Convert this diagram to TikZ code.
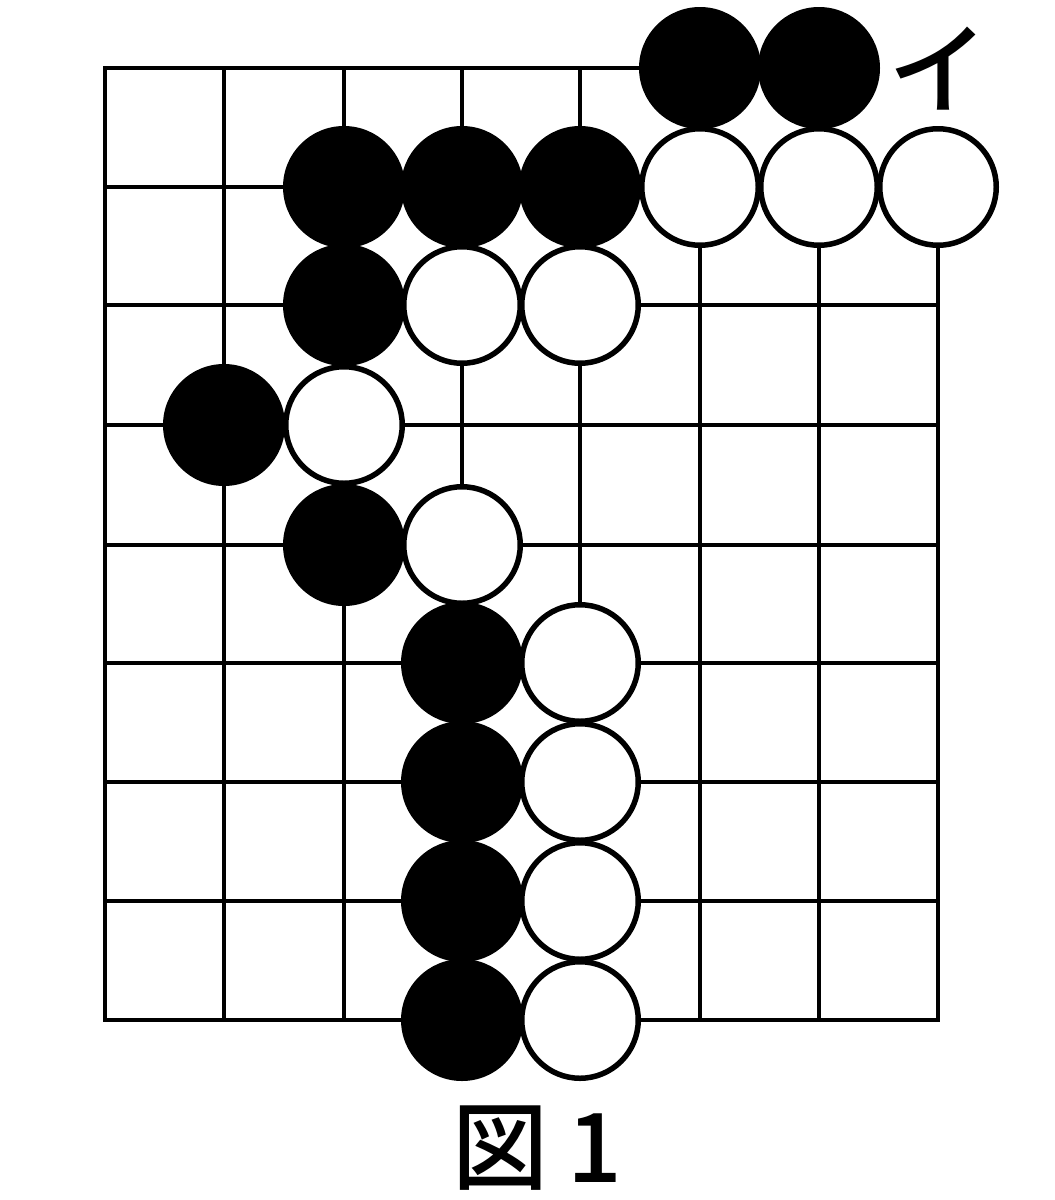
\documentclass[tikz,border=0pt]{standalone}
\usepackage{fontspec}
\newfontfamily\jpfont{Noto Sans CJK JP Medium}
\begin{document}
\begin{tikzpicture}[x=1pt,y=-1pt,
  gridline/.style={line width=4.6pt,line cap=rect},
  bstone/.style={circle,fill=black,minimum size=122pt,inner sep=0pt},
  wstone/.style={circle,fill=white,draw=black,line width=5.5pt,minimum size=116.5pt,inner sep=0pt},
  lbl/.style={font=\jpfont\fontsize{100}{100}\selectfont,inner sep=0pt}]
\useasboundingbox (0,0) rectangle (1055,1200);
% grid
\foreach \y in {187,305,425,545,663,782,901,1020}
  \draw[gridline] (105,\y) -- (938,\y);
\draw[gridline] (105,68) -- (819,68);
\foreach \x in {105,224,344,462,580,700,819}
  \draw[gridline] (\x,68) -- (\x,1020);
\draw[gridline] (938,187) -- (938,1020);
% black stones
\foreach \x/\y [count=\i] in {700/68,819/68,344/187,462/187,580/187,344/305,224/425,344/545,462/663,462/782,462/901,462/1020}
  \node[bstone] (b\i) at (\x,\y) {};
% white stones
\foreach \x/\y [count=\i] in {700/187,819/187,938/187,462/305,580/305,344/425,462/545,580/663,580/782,580/901,580/1020}
  \node[wstone] (w\i) at (\x,\y) {};
% labels
\node[lbl] (i) at (938,69) {イ};
\node[lbl,font=\jpfont\fontsize{96}{96}\selectfont] (cap) at (537,1148) {図\hspace{0.2em}1};
\end{tikzpicture}
\end{document}
